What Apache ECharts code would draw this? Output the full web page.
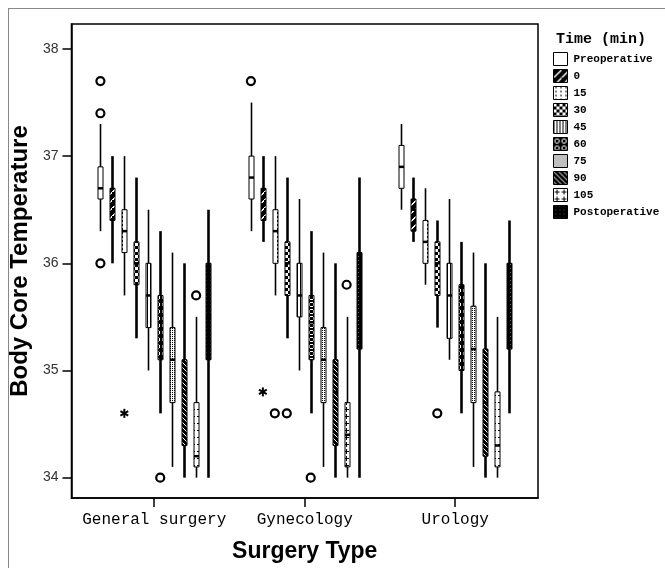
<!DOCTYPE html>
<html>
<head>
<meta charset="utf-8">
<script src="https://cdn.jsdelivr.net/npm/echarts@6/dist/echarts.min.js"></script>
<style>
  html, body { margin: 0; padding: 0; background: #fff; }
  #frame { position: absolute; left: 8px; top: 8px; width: 657px; height: 560px;
           border-left: 1px solid #888; border-top: 1px solid #888; box-sizing: border-box; }
  #chart { position: absolute; left: 0; top: 0; width: 665px; height: 568px; }
</style>
</head>
<body>
<div id="frame"></div>
<div id="chart"></div>
<script>
// ---------------- DATA ----------------
const categories = ['General surgery', 'Gynecology', 'Urology'];
const timePoints = ['Preoperative', '0', '15', '30', '45', '60', '75', '90', '105', 'Postoperative'];
const yTicks = [34, 35, 36, 37, 38];

// box statistics per surgery type: [lower whisker, Q1, median, Q3, upper whisker]
const preoperative  = [[36.3, 36.6, 36.7, 36.9, 37.3], [36.3, 36.6, 36.8, 37.0, 37.5], [36.5, 36.7, 36.9, 37.1, 37.3]];
const min0          = [[36.0, 36.4, 36.55, 36.7, 37.0], [36.2, 36.4, 36.55, 36.7, 37.0], [36.2, 36.3, 36.5, 36.6, 36.8]];
const min15         = [[35.7, 36.1, 36.3, 36.5, 37.0], [35.7, 36.0, 36.3, 36.5, 37.0], [35.8, 36.0, 36.2, 36.4, 36.7]];
const min30         = [[35.3, 35.8, 36.0, 36.2, 36.8], [35.3, 35.7, 36.0, 36.2, 36.8], [35.4, 35.7, 36.0, 36.2, 36.4]];
const min45         = [[35.0, 35.4, 35.7, 36.0, 36.5], [35.0, 35.5, 35.7, 36.0, 36.6], [35.1, 35.3, 35.7, 36.0, 36.6]];
const min60         = [[34.6, 35.1, 35.45, 35.7, 36.3], [34.6, 35.1, 35.45, 35.7, 36.3], [34.6, 35.0, 35.4, 35.8, 36.2]];
const min75         = [[34.1, 34.7, 35.1, 35.4, 36.1], [34.1, 34.7, 35.1, 35.4, 36.1], [34.1, 34.7, 35.2, 35.6, 36.1]];
const min90         = [[34.0, 34.3, 34.8, 35.1, 36.0], [34.0, 34.3, 34.8, 35.1, 36.0], [34.0, 34.2, 34.7, 35.2, 36.0]];
const min105        = [[34.0, 34.1, 34.2, 34.7, 35.5], [34.0, 34.1, 34.4, 34.7, 35.5], [34.0, 34.1, 34.3, 34.8, 35.5]];
const postoperative = [[34.0, 35.1, 35.5, 36.0, 36.5], [34.0, 35.2, 35.6, 36.1, 36.8], [34.6, 35.2, 35.6, 36.0, 36.4]];

// outliers: [surgery type, time point, value]
const outlierCircles = [
  ['General surgery', 'Preoperative', 37.7], ['General surgery', 'Preoperative', 37.4], ['General surgery', 'Preoperative', 36.0],
  ['General surgery', '60', 34.0], ['General surgery', '105', 35.7],
  ['Gynecology', 'Preoperative', 37.7], ['Gynecology', '15', 34.6], ['Gynecology', '30', 34.6],
  ['Gynecology', '60', 34.0], ['Gynecology', '105', 35.8],
  ['Urology', '30', 34.6]
];
const extremeStars = [['General surgery', '15', 34.6], ['Gynecology', '0', 34.8]];

// ---------------- STYLE / LAYOUT ----------------
const boxStats = [preoperative, min0, min15, min30, min45, min60, min75, min90, min105, postoperative];
const SERIES_STEP = 0.0795;   // offset between neighbouring boxes, in category units
const BOX_W = 5;              // px
const thinWhisker = [true, false, true, false, true, false, true, false, true, false];

function makePattern(w, h, draw) {
  const c = document.createElement('canvas');
  c.width = w; c.height = h;
  const g = c.getContext('2d');
  draw(g, w, h);
  return { image: c, repeat: 'repeat' };
}
function px(g, col, pts) { g.fillStyle = col; pts.forEach(p => g.fillRect(p[0], p[1], p[2] || 1, p[3] || 1)); }

const fills = [
  '#ffffff',
  makePattern(8, 8, (g, w, h) => { px(g, '#000', [[0, 0, w, h]]); for (let i = 0; i < 8; i++) px(g, '#fff', [[i, 7 - i, 2, 1]]); }),
  makePattern(5, 4, (g, w, h) => { px(g, '#fff', [[0, 0, w, h]]); px(g, '#000', [[2, 0, 1, 2]]); }),
  makePattern(6, 6, (g, w, h) => { px(g, '#000', [[0, 0, w, h]]); px(g, '#fff', [[0, 0, 3, 3], [3, 3, 3, 3]]); }),
  makePattern(3, 1, (g, w, h) => { px(g, '#fff', [[0, 0, w, h]]); px(g, '#000', [[0, 0, 1, 1]]); }),
  makePattern(7, 7, (g, w, h) => { px(g, '#000', [[0, 0, w, h]]); px(g, '#fff', [[2, 1, 3, 1], [1, 2, 1, 3], [5, 2, 1, 3], [2, 5, 3, 1]]); }),
  makePattern(2, 2, (g, w, h) => { px(g, '#fff', [[0, 0, w, h]]); px(g, '#000', [[0, 0, 1, 1]]); }),
  makePattern(5, 5, (g, w, h) => { px(g, '#000', [[0, 0, w, h]]); for (let i = 0; i < 5; i++) px(g, '#fff', [[i, i, 1, 1]]); }),
  makePattern(7, 7, (g, w, h) => { px(g, '#fff', [[0, 0, w, h]]); px(g, '#000', [[3, 1, 1, 5], [1, 3, 5, 1]]); }),
  makePattern(4, 4, (g, w, h) => { px(g, '#000', [[0, 0, w, h]]); px(g, '#555', [[2, 0, 1, 1]]); })
];

function boxRenderer(t) {
  return function (params, api) {
    const cat = api.value(0);
    const x = cat + (t - 4.5) * SERIES_STEP;
    const pLow = api.coord([x, api.value(1)]);
    const pQ1 = api.coord([x, api.value(2)]);
    const pMed = api.coord([x, api.value(3)]);
    const pQ3 = api.coord([x, api.value(4)]);
    const pHigh = api.coord([x, api.value(5)]);
    const cx = Math.round(pLow[0]) + 0.5;
    return {
      type: 'group',
      children: [
        { type: 'line', shape: { x1: cx, y1: pLow[1], x2: cx, y2: pHigh[1] },
          style: { stroke: '#000', lineWidth: thinWhisker[t] ? 1.6 : 2.6 } },
        { type: 'rect', shape: { x: cx - BOX_W / 2, y: pQ3[1], width: BOX_W, height: pQ1[1] - pQ3[1] },
          style: { fill: fills[t], stroke: '#000', lineWidth: 1 } },
        { type: 'line', shape: { x1: cx - BOX_W / 2, y1: pMed[1], x2: cx + BOX_W / 2, y2: pMed[1] },
          style: { stroke: '#000', lineWidth: 2.5 } }
      ]
    };
  };
}

function outlierRenderer(params, api) {
  const cat = api.value(0), t = api.value(1), kind = api.value(3);
  const p = api.coord([cat + (t - 4.5) * SERIES_STEP, api.value(2)]);
  if (kind === 0) {
    return { type: 'circle', shape: { cx: p[0], cy: p[1], r: 4 },
             style: { fill: '#fff', stroke: '#000', lineWidth: 2.2 } };
  }
  const r = 4.5, children = [];
  [90, 30, -30].forEach(a => {
    const rad = a * Math.PI / 180;
    children.push({ type: 'line',
      shape: { x1: p[0] - r * Math.cos(rad), y1: p[1] - r * Math.sin(rad), x2: p[0] + r * Math.cos(rad), y2: p[1] + r * Math.sin(rad) },
      style: { stroke: '#000', lineWidth: 2 } });
  });
  return { type: 'group', children };
}

const series = timePoints.map((name, t) => ({
  type: 'custom',
  name: name,
  renderItem: boxRenderer(t),
  encode: { x: 0, y: [1, 2, 3, 4, 5] },
  itemStyle: { color: fills[t], borderColor: '#000', borderWidth: 1 },
  data: boxStats[t].map((s, c) => [c].concat(s)),
  silent: true
}));

const outlierData = outlierCircles.map(o => [categories.indexOf(o[0]), timePoints.indexOf(o[1]), o[2], 0])
  .concat(extremeStars.map(o => [categories.indexOf(o[0]), timePoints.indexOf(o[1]), o[2], 1]));
series.push({
  type: 'custom',
  name: 'outliers',
  renderItem: outlierRenderer,
  encode: { x: 0, y: 2 },
  data: outlierData,
  silent: true,
  z: 5
});

const chart = echarts.init(document.getElementById('chart'), null, { renderer: 'canvas' });
chart.setOption({
  animation: false,
  title: {
    text: 'Time (min)',
    left: 556, top: 32, padding: 0,
    textStyle: { fontFamily: 'Liberation Mono', fontWeight: 'bold', fontSize: 15, color: '#000' }
  },
  legend: {
    data: timePoints.map((n, t) => ({ name: n, icon: 'rect', itemStyle: { color: fills[t], borderColor: '#000', borderWidth: 1 } })),
    orient: 'vertical',
    left: 553, top: 52, padding: 0,
    itemWidth: 14, itemHeight: 13, itemGap: 3,
    selectedMode: false,
    textStyle: { fontFamily: 'Liberation Mono', fontWeight: 'bold', fontSize: 11, color: '#000', padding: [0, 0, 0, 1] }
  },
  grid: {
    left: 70, right: 127, top: 24, bottom: 68,
    show: true, borderColor: '#000', borderWidth: 1.5, backgroundColor: 'transparent'
  },
  xAxis: {
    type: 'value',
    min: -0.55, max: 2.55,
    name: 'Surgery Type',
    nameLocation: 'middle',
    nameGap: 42,
    nameTextStyle: { fontFamily: 'Liberation Sans', fontWeight: 'bold', fontSize: 23, color: '#000' },
    axisLine: { show: true, onZero: false, lineStyle: { color: '#000', width: 1.5 } },
    axisTick: { show: true, length: 9, customValues: [0, 1, 2], lineStyle: { color: '#000', width: 1.5 } },
    axisLabel: {
      customValues: [0, 1, 2],
      formatter: v => categories[Math.round(v)] || '',
      margin: 14,
      fontFamily: 'Liberation Mono', fontSize: 16, color: '#000'
    },
    splitLine: { show: false }
  },
  yAxis: {
    type: 'value',
    min: 33.81, max: 38.233,
    name: 'Body Core Temperature',
    nameLocation: 'middle',
    nameGap: 28,
    nameTextStyle: { fontFamily: 'Liberation Sans', fontWeight: 'bold', fontSize: 24, color: '#000' },
    axisLine: { show: true, onZero: false, lineStyle: { color: '#000', width: 1.5 } },
    axisTick: { show: true, length: 9, customValues: yTicks, lineStyle: { color: '#000', width: 1.5 } },
    axisLabel: {
      customValues: yTicks,
      margin: 13,
      fontFamily: 'Liberation Sans', fontSize: 14, color: '#333'
    },
    splitLine: { show: false }
  },
  series: series
});
</script>
</body>
</html>
